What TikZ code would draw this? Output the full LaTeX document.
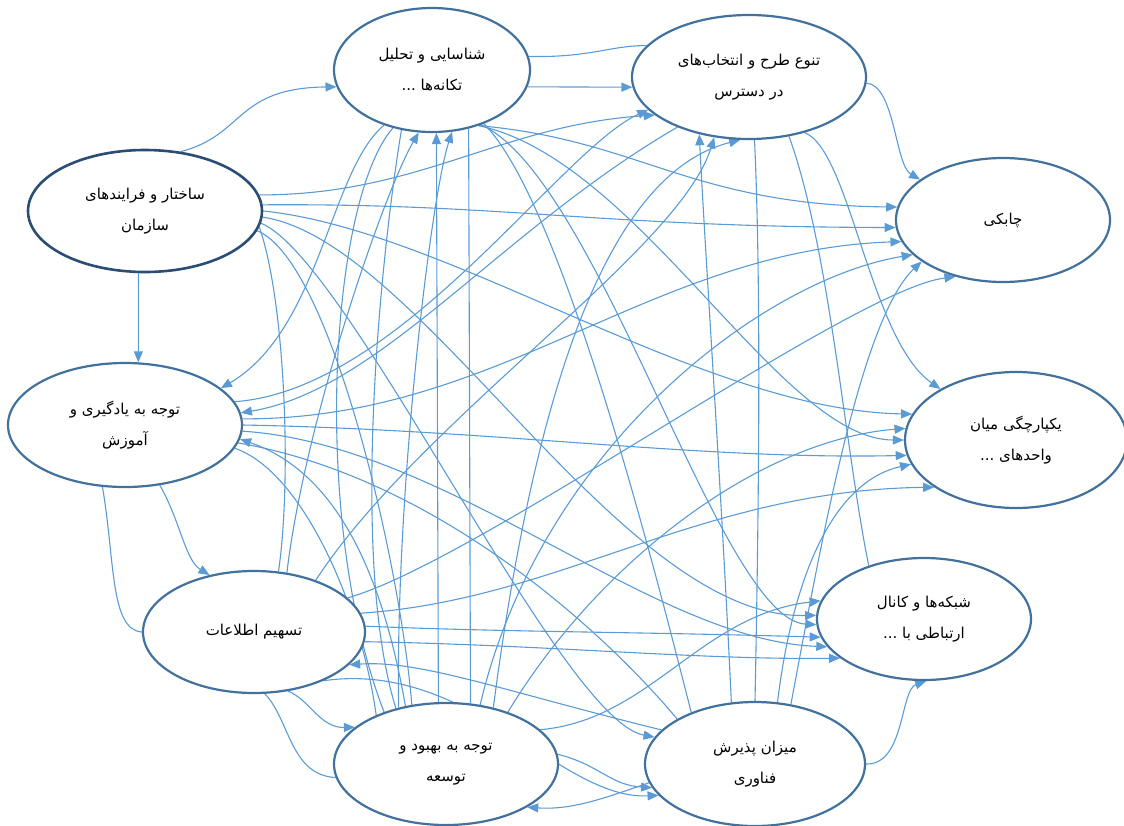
\documentclass[tikz,border=0pt]{standalone}
\usepackage{fontspec}
\usetikzlibrary{shapes.geometric,arrows.meta}
\TeXXeTstate=1
\newfontfamily\fa[Script=Arabic]{DejaVu Sans}
\definecolor{edgeblue}{HTML}{5B9BD5}
\definecolor{nodeblue}{HTML}{41719C}
\definecolor{darkblue}{HTML}{2B4C73}
\pgfdeclarelayer{background}
\pgfsetlayers{background,main}
\tikzset{
  nd/.style={ellipse, draw=nodeblue, line width=2.2pt, fill=white, inner sep=0pt,
    align=center, font=\fa\fontsize{15}{31}\selectfont},
  ed/.style={draw=edgeblue, line width=1.1pt, -{Triangle[length=11pt,width=9pt]}},
  ln/.style={draw=edgeblue, line width=1.1pt},
}
\newcommand{\rtl}[1]{\beginR #1\endR}
\begin{document}
\begin{tikzpicture}[x=1pt,y=1pt]
\useasboundingbox (0,0) rectangle (1124,-825);
\node[nd, minimum width=196pt, minimum height=124pt] (A) at (432,-70) {\rtl{شناسایی و تحلیل}\\\rtl{تکانه‌ها ...}};
\node[nd, minimum width=234pt, minimum height=124pt] (B) at (749,-77) {\rtl{تنوع طرح و انتخاب‌های}\\\rtl{در دسترس}};
\node[nd, draw=darkblue, line width=2.6pt, minimum width=234pt, minimum height=122pt] (C) at (145,-211) {\rtl{ساختار و فرایندهای}\\\rtl{سازمان}};
\node[nd, minimum width=214pt, minimum height=124pt] (D) at (1003,-220) {\rtl{چابکی}};
\node[nd, minimum width=234pt, minimum height=124pt] (E) at (125,-425) {\rtl{توجه به یادگیری و}\\\rtl{آموزش}};
\node[nd, minimum width=222pt, minimum height=136pt] (F) at (1016,-440) {\rtl{یکپارچگی میان}\\\rtl{واحدهای ...}};
\node[nd, minimum width=214pt, minimum height=122pt] (G) at (924,-619) {\rtl{شبکه‌ها و کانال}\\\rtl{ارتباطی با ...}};
\node[nd, minimum width=222pt, minimum height=122pt] (H) at (254,-632) {\rtl{تسهیم اطلاعات}};
\node[nd, minimum width=224pt, minimum height=122pt] (I) at (446,-764) {\rtl{توجه به بهبود و}\\\rtl{توسعه}};
\node[nd, minimum width=220pt, minimum height=124pt] (J) at (755,-764) {\rtl{میزان پذیرش}\\\rtl{فناوری}};
\begin{pgfonlayer}{background}
% C
\draw[ed] (C.59) .. controls (245,-135) and (235,-88) .. (A.190);
\draw[ed] (C.264) -- (E.78);
% A
\draw[ed] (A.350) -- (B.185);
\draw[ln] (A.8) .. controls (590,-58) and (612,-45) .. (B.163);
\draw[ed] (A.229) .. controls (330,-170) and (320,-330) .. (E.21);
\draw[ed] (A.310) .. controls (640,-140) and (690,-205) .. (D.173);
\draw[ed] (A.310) .. controls (640,-160) and (780,-440) .. (F.180);
\draw[ed] (A.312) .. controls (600,-180) and (720,-620) .. (G.183);
\draw[ln] (A.314) .. controls (560,-200) and (650,-550) .. (J.141);
\draw[ln] (A.302) -- (I.68);
\draw[ln] (A.236) .. controls (330,-200) and (310,-520) .. (I.140);
\draw[ln] (A.243) .. controls (380,-260) and (350,-560) .. (I.132);
% B
\draw[ed] (B.357) .. controls (895,-85) and (895,-165) .. (D.154);
\draw[ed] (B.315) .. controls (850,-150) and (870,-340) .. (F.146);
\draw[ln] (B.304) .. controls (830,-250) and (845,-450) .. (G.136);
\draw[ln] (B.275) .. controls (762,-300) and (758,-550) .. (J.90);
\draw[ed] (B.215) .. controls (500,-230) and (380,-390) .. (E.6);
% C right
\draw[ed] (C.8) .. controls (420,-195) and (500,-125) .. (B.202);
\draw[ed] (C.3) .. controls (500,-203) and (600,-227) .. (D.184);
\draw[ed] (C.0) .. controls (450,-230) and (700,-410) .. (F.166);
\draw[ed] (C.357) .. controls (420,-240) and (620,-620) .. (G.178);
\draw[ed] (C.354) .. controls (350,-260) and (560,-720) .. (J.165);
\draw[ln] (C.350) .. controls (330,-260) and (400,-560) .. (I.120);
\draw[ln] (C.352) .. controls (285,-300) and (292,-480) .. (H.68);
% E
\draw[ed] (E.12) .. controls (400,-390) and (560,-150) .. (B.198);
\draw[ed] (E.3) .. controls (500,-420) and (650,-250) .. (D.192);
\draw[ed] (E.0) .. controls (500,-430) and (700,-460) .. (F.188);
\draw[ed] (E.357) .. controls (450,-445) and (650,-640) .. (G.196);
\draw[ed] (E.300) .. controls (180,-520) and (185,-560) .. (H.128);
\draw[ln] (E.250) .. controls (115,-560) and (110,-630) .. (H.180);
\draw[ln] (E.348) .. controls (300,-470) and (360,-600) .. (I.145);
\draw[ln] (E.351) .. controls (450,-480) and (620,-650) .. (J.150);
% H
\draw[ed] (H.61) .. controls (305,-420) and (385,-190) .. (A.258);
\draw[ed] (H.20) .. controls (480,-560) and (850,-290) .. (D.230);
\draw[ed] (H.10) .. controls (560,-600) and (700,-490) .. (F.210);
\draw[ed] (H.3) .. controls (500,-632) and (650,-632) .. (G.190);
\draw[ed] (H.355) .. controls (550,-645) and (700,-660) .. (G.205);
\draw[ed] (H.40) .. controls (420,-420) and (680,-250) .. (B.240);
\draw[ed] (H.300) .. controls (310,-700) and (320,-728) .. (I.158);
\draw[ln] (H.280) .. controls (290,-720) and (290,-775) .. (I.187);
\draw[ed] (H.325) .. controls (470,-660) and (560,-800) .. (J.198);
% I
\draw[ed] (I.97) -- (A.274);
\draw[ed] (I.130) .. controls (395,-500) and (430,-200) .. (A.288);
\draw[ed] (I.125) .. controls (380,-560) and (330,-470) .. (E.353);
\draw[ed] (I.60) .. controls (540,-450) and (760,-280) .. (D.201);
\draw[ed] (I.20) .. controls (650,-720) and (700,-615) .. (G.170);
\draw[ed] (I.5) .. controls (600,-765) and (610,-785) .. (J.193);
\draw[ed] (I.50) .. controls (540,-350) and (620,-170) .. (B.262);
\draw[ed] (I.40) .. controls (600,-560) and (760,-440) .. (F.174);
% J
\draw[ed] (J.111) .. controls (722,-500) and (705,-250) .. (B.229);
\draw[ed] (J.59) .. controls (820,-550) and (860,-320) .. (D.207);
\draw[ed] (J.70) .. controls (795,-560) and (840,-480) .. (F.193);
\draw[ed] (J.0) .. controls (905,-765) and (900,-690) .. (G.272);
\draw[ed] (J.160) .. controls (500,-690) and (420,-660) .. (H.341);
\draw[ed] (J.190) .. controls (600,-800) and (570,-810) .. (I.332);
\end{pgfonlayer}
\end{tikzpicture}
\end{document}
